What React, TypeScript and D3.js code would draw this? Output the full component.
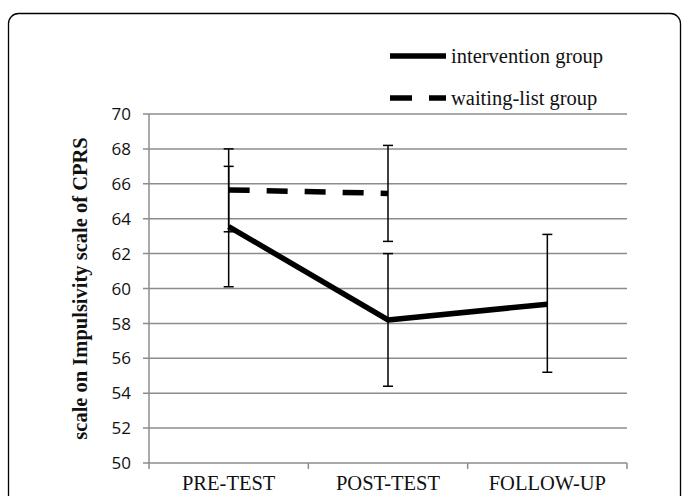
import * as d3 from 'd3';

const categories = ['PRE-TEST', 'POST-TEST', 'FOLLOW-UP'];
const yTicks = [50, 52, 54, 56, 58, 60, 62, 64, 66, 68, 70];

const interventionMean = [63.55, 58.2, 59.1];
const interventionLow = [60.1, 54.4, 55.2];
const interventionHigh = [67.0, 62.0, 63.1];

const waitingMean = [65.65, 65.45];
const waitingLow = [63.25, 62.7];
const waitingHigh = [68.0, 68.2];

const seriesNames = ['intervention group', 'waiting-list group'];

const W = 683;
const H = 496;

const App = () => {
  const x = d3.scaleBand().domain(categories).range([149, 627]);
  const y = d3.scaleLinear().domain([50, 70]).range([463, 114]);
  const cx = (c: string) => (x(c) ?? 0) + x.bandwidth() / 2;

  const line = d3.line<[number, number]>().x(d => d[0]).y(d => d[1]);
  const intPts: [number, number][] = interventionMean.map((v, i) => [cx(categories[i]), y(v)]);
  const waitPts: [number, number][] = waitingMean.map((v, i) => [cx(categories[i]), y(v)]);

  const errBar = (c: string, lo: number, hi: number, key: string) => {
    const xc = cx(c);
    return (
      <g key={key} stroke="#000" strokeWidth={1.5}>
        <line x1={xc} x2={xc} y1={y(lo)} y2={y(hi)} />
        <line x1={xc - 5} x2={xc + 5} y1={y(lo)} y2={y(lo)} />
        <line x1={xc - 5} x2={xc + 5} y1={y(hi)} y2={y(hi)} />
      </g>
    );
  };

  const bounds = [...categories.map(c => x(c) ?? 0), (x(categories[categories.length - 1]) ?? 0) + x.bandwidth()];

  return (
    <svg width={W} height={H} style={{ position: 'absolute', left: 0, top: 0, background: '#fff' }}>
      <rect x={8.5} y={13.5} width={672} height={560} rx={10} fill="#fff" stroke="#000" strokeWidth={1.3} />

      {/* gridlines */}
      {yTicks.map(t => (
        <g key={t}>
          <line x1={143} x2={627} y1={y(t)} y2={y(t)} stroke="#8c8c8c" strokeWidth={1.5} />
          <text x={131} y={y(t)} dy="0.36em" textAnchor="end" fontFamily="'Open Sans', sans-serif" fontSize={17} fill="#111">
            {t}
          </text>
        </g>
      ))}
      <line x1={149} x2={149} y1={y(70)} y2={y(50)} stroke="#8c8c8c" strokeWidth={1.5} />
      {bounds.map((b, i) => (
        <line key={i} x1={b} x2={b} y1={y(50)} y2={y(50) + 6} stroke="#8c8c8c" strokeWidth={1.5} />
      ))}
      {categories.map(c => (
        <text key={c} x={cx(c)} y={490} textAnchor="middle" fontFamily="'Liberation Serif', serif" fontSize={20.5} fill="#111">
          {c}
        </text>
      ))}

      <text
        transform={`translate(87, ${(y(50) + y(70)) / 2}) rotate(-90)`}
        textAnchor="middle"
        fontFamily="'Liberation Serif', serif"
        fontWeight="bold"
        fontSize={20.5}
        fill="#111"
      >
        scale on Impulsivity scale of CPRS
      </text>

      {/* error bars */}
      {waitingMean.map((_, i) => errBar(categories[i], waitingLow[i], waitingHigh[i], 'w' + i))}
      {interventionMean.map((_, i) => errBar(categories[i], interventionLow[i], interventionHigh[i], 'i' + i))}

      {/* lines */}
      <path d={line(waitPts) ?? ''} fill="none" stroke="#000" strokeWidth={5.5} strokeDasharray="21 17" />
      <path d={line(intPts) ?? ''} fill="none" stroke="#000" strokeWidth={5.5} strokeLinejoin="round" />

      {/* legend */}
      <line x1={390} x2={446} y1={56} y2={56} stroke="#000" strokeWidth={5.5} />
      <text x={451} y={56} dy="0.33em" fontFamily="'Liberation Serif', serif" fontSize={20.5} fill="#111">
        {seriesNames[0]}
      </text>
      <line x1={390} x2={446} y1={98} y2={98} stroke="#000" strokeWidth={5.5} strokeDasharray="22 17" />
      <text x={451} y={98} dy="0.33em" fontFamily="'Liberation Serif', serif" fontSize={20.5} fill="#111">
        {seriesNames[1]}
      </text>
    </svg>
  );
};

export default App;
